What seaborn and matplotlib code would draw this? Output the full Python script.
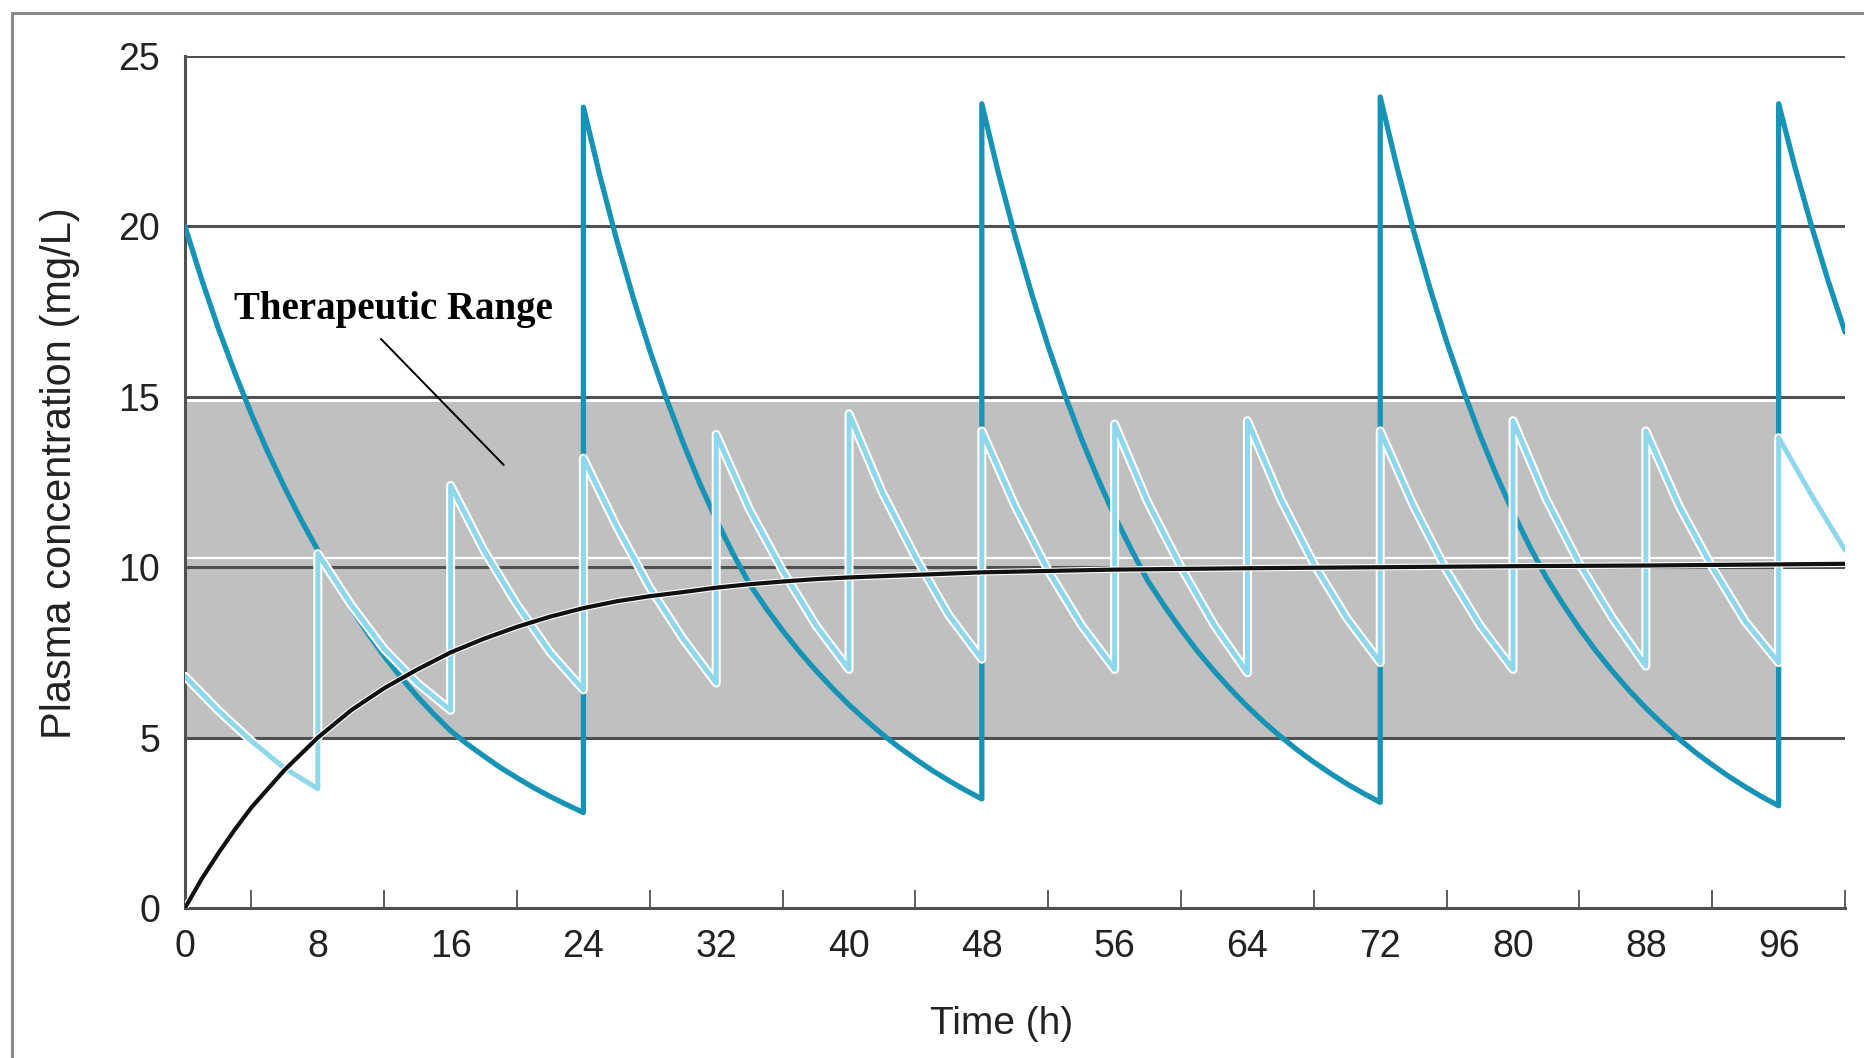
import numpy as np
import pandas as pd
import matplotlib
matplotlib.use("Agg")
import matplotlib.pyplot as plt
import matplotlib.patheffects as pe
from matplotlib.lines import Line2D
import seaborn as sns

# ---- data -------------------------------------------------------------
# Once-daily dosing (every 24 h): concentrations at 1 h steps within each interval
q24_doses = [0, 24, 48, 72, 96]
q24_step = 1
q24_cycles = [
    [20.0, 18.45, 17.02, 15.71, 14.49, 13.37, 12.34, 11.38, 10.5, 9.62, 8.81,
     8.07, 7.39, 6.77, 6.2, 5.68, 5.2, 4.81, 4.46, 4.12, 3.82, 3.53, 3.27,
     3.03, 2.8],
    [23.5, 21.47, 19.61, 17.91, 16.36, 14.95, 13.66, 12.47, 11.39, 10.41, 9.51,
     8.8, 8.14, 7.53, 6.97, 6.45, 5.96, 5.52, 5.1, 4.72, 4.37, 4.04, 3.74,
     3.46, 3.2],
    [23.6, 21.57, 19.72, 18.03, 16.48, 15.06, 13.77, 12.59, 11.5, 10.52, 9.6,
     8.86, 8.17, 7.53, 6.95, 6.41, 5.91, 5.45, 5.03, 4.64, 4.28, 3.95, 3.64,
     3.36, 3.1],
    [23.8, 21.76, 19.89, 18.18, 16.62, 15.2, 13.89, 12.7, 11.61, 10.61, 9.7,
     8.92, 8.2, 7.54, 6.94, 6.38, 5.87, 5.4, 4.96, 4.56, 4.2, 3.86, 3.55,
     3.26, 3.0],
    [23.6, 21.71, 19.98, 18.38, 16.9],
]

# Dosing every 8 h: concentrations at 2 h steps within each interval
q8_doses = [0, 8, 16, 24, 32, 40, 48, 56, 64, 72, 80, 88, 96]
q8_step = 2
q8_cycles = [
    [6.8, 5.8, 4.9, 4.1, 3.5],
    [10.4, 8.9, 7.6, 6.6, 5.8],
    [12.4, 10.5, 8.9, 7.5, 6.4],
    [13.2, 11.2, 9.4, 7.9, 6.6],
    [13.9, 11.7, 9.9, 8.3, 7.0],
    [14.5, 12.2, 10.3, 8.6, 7.3],
    [14.0, 11.8, 9.9, 8.3, 7.0],
    [14.2, 11.9, 10.0, 8.3, 6.9],
    [14.3, 12.0, 10.1, 8.5, 7.2],
    [14.0, 11.8, 9.9, 8.3, 7.0],
    [14.3, 12.0, 10.1, 8.5, 7.1],
    [14.0, 11.8, 10.0, 8.4, 7.2],
    [13.8, 12.1, 10.5],
]

# Continuous infusion
infusion_time = [0, 1, 2, 3, 4, 6, 8, 10, 12, 14, 16, 18, 20, 22, 24, 26, 28,
                 30, 32, 34, 36, 38, 40, 48, 56, 64, 72, 80, 88, 100]
infusion_conc = [0, 0.85, 1.6, 2.3, 2.95, 4.05, 5.0, 5.8, 6.45, 7.0, 7.5, 7.9,
                 8.25, 8.55, 8.8, 9.0, 9.15, 9.27, 9.4, 9.5, 9.58, 9.65, 9.7,
                 9.85, 9.93, 9.97, 10.0, 10.03, 10.05, 10.1]

therapeutic_range = (5, 14.85)
range_end = 96
y_ticks = [0, 5, 10, 15, 20, 25]
x_labels = list(range(0, 97, 8))


def expand(doses, cycles, step):
    t, c = [], []
    for d, vals in zip(doses, cycles):
        for i, v in enumerate(vals):
            t.append(d + i * step)
            c.append(v)
    return pd.DataFrame({"time": t, "conc": c})


q24 = expand(q24_doses, q24_cycles, q24_step)
q8 = expand(q8_doses, q8_cycles, q8_step)
inf = pd.DataFrame({"time": infusion_time, "conc": infusion_conc})

# ---- styling ----------------------------------------------------------
sns.set_theme(style="white")
plt.rcParams["font.family"] = ["Liberation Sans", "DejaVu Sans"]

fig = plt.figure(figsize=(18.65, 10.58), dpi=100)
ax = fig.add_axes([0.0992, 0.1418, 0.8901, 0.8052])

grid_col = "#505050"
dark_blue = "#1793b6"
light_blue = "#8fd8ec"
text_col = "#222222"

# therapeutic band
ax.fill_between([0, range_end], therapeutic_range[0], therapeutic_range[1],
                color="#c0c0c0", linewidth=0, zorder=0)
ax.hlines(10.28, 0, range_end, color="white", lw=1.6, zorder=0.5)

# horizontal reference lines
ax.hlines(y_ticks[1:], 0, 100, color=grid_col, lw=2.2, zorder=1)

# curves
sns.lineplot(data=q24, x="time", y="conc", estimator=None, sort=False,
             color=dark_blue, lw=3.8, ax=ax, zorder=3)
sns.lineplot(data=q8, x="time", y="conc", estimator=None, sort=False,
             color=light_blue, lw=3.6, ax=ax, zorder=4,
             path_effects=[pe.Stroke(linewidth=6.5, foreground="white"), pe.Normal()])
sns.lineplot(data=inf, x="time", y="conc", estimator=None, sort=False,
             color="#111111", lw=3.0, ax=ax, zorder=5,
             path_effects=[pe.Stroke(linewidth=4.6, foreground="white"), pe.Normal()])

# annotation
ax.text(2.95, 17.55, "Therapeutic Range", fontsize=28, fontweight="bold",
        family=["Liberation Serif", "DejaVu Serif"], color="black",
        ha="left", va="center", zorder=6)
ax.plot([11.8, 19.2], [16.7, 13.0], color="black", lw=1.4, zorder=6)

# axes
ax.set_xlim(0, 100)
ax.set_ylim(0, 25)
ax.set_xticks(x_labels)
ax.set_xticks(list(range(4, 101, 8)), minor=True)
ax.set_xticklabels([str(v) for v in x_labels])
ax.set_yticks(y_ticks)
ax.set_yticklabels([str(v) for v in y_ticks])
ax.tick_params(axis="x", which="both", direction="in", length=13, width=1.3,
               color=grid_col, labelsize=27, pad=15, labelcolor=text_col)
ax.tick_params(axis="x", which="minor", bottom=True)
ax.tick_params(axis="y", length=0, labelsize=27, pad=18, labelcolor=text_col)

for s in ["top", "right"]:
    ax.spines[s].set_visible(False)
for s in ["left", "bottom"]:
    ax.spines[s].set_color(grid_col)
    ax.spines[s].set_linewidth(2.2)

ax.set_xlabel("Time (h)", fontsize=28, color=text_col)
ax.set_ylabel("Plasma concentration (mg/L)", fontsize=30, color=text_col)
ax.xaxis.set_label_coords(0.492, -0.115)
ax.yaxis.set_label_coords(-0.063, 0.51)

# outer frame
fig.add_artist(Line2D([0.0064, 1.0], [1 - 13 / 1058] * 2, color="#8a8a8a", lw=2.2))
fig.add_artist(Line2D([0.0064, 0.0064], [0, 1 - 13 / 1058], color="#8a8a8a", lw=2.2))

fig.savefig("out.png", dpi=100, facecolor="white")
